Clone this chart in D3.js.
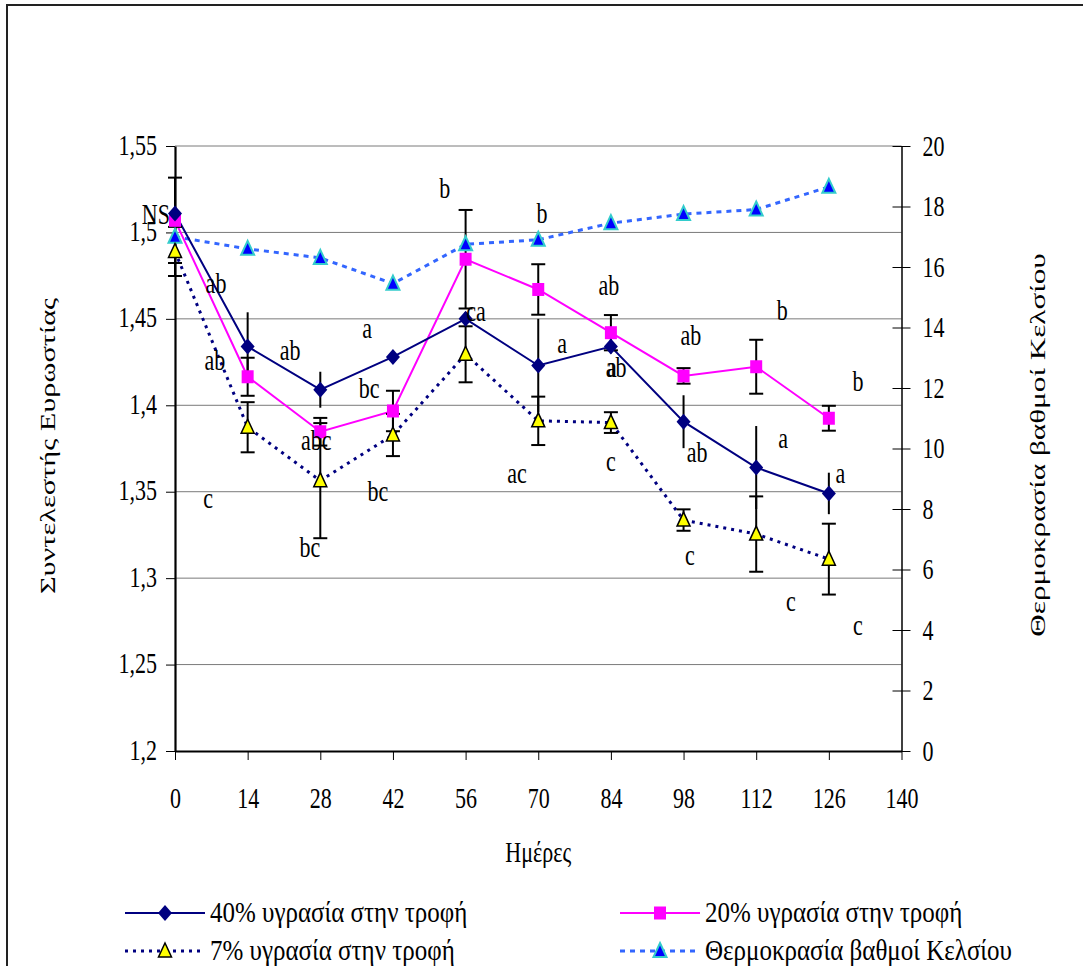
<!DOCTYPE html>
<html>
<head>
<meta charset="utf-8">
<script src="https://cdn.jsdelivr.net/npm/d3@7"></script>
<style>
  html, body { margin: 0; padding: 0; background: #fff; }
  svg { display: block; }
  text { font-family: "Liberation Serif", "DejaVu Serif", "Times New Roman", serif; fill: #000; }
</style>
</head>
<body>
<svg id="chart" width="1083" height="966"></svg>
<script>
// Days of sampling
const days = [0, 14, 28, 42, 56, 70, 84, 98, 112, 126];

// Condition factor per feed moisture level, with standard errors
const moist40 = [1.511, 1.434, 1.409, 1.428, 1.450, 1.423, 1.434, 1.3905, 1.364, 1.349];
const err40   = [0.010, 0.0198, 0.0104, 0.002, 0.004, 0.027, 0.004, 0.0153, 0.024, 0.012];
const moist20 = [1.507, 1.4165, 1.3847, 1.3967, 1.4845, 1.467, 1.442, 1.417, 1.4223, 1.3925];
const err20   = [0.0247, 0.011, 0.008, 0.0117, 0.0285, 0.0146, 0.0102, 0.0045, 0.0156, 0.0072];
const moist7  = [1.489, 1.3873, 1.3564, 1.3828, 1.4295, 1.391, 1.390, 1.3336, 1.3255, 1.311];
const err7    = [0.0142, 0.0145, 0.0333, 0.0122, 0.0162, 0.014, 0.006, 0.0062, 0.0218, 0.0205];

// Water temperature (°C), right axis
const temperature = [17.0, 16.6, 16.3, 15.45, 16.75, 16.9, 17.45, 17.75, 17.9, 18.65];

// Axis ticks
const xTicks = [0, 14, 28, 42, 56, 70, 84, 98, 112, 126, 140];
const yTicks = [1.2, 1.25, 1.3, 1.35, 1.4, 1.45, 1.5, 1.55];
const y2Ticks = [0, 2, 4, 6, 8, 10, 12, 14, 16, 18, 20];

// Series names
const seriesNames = ["40% υγρασία στην τροφή", "20% υγρασία στην τροφή",
                     "7% υγρασία στην τροφή", "Θερμοκρασία βαθμοί Κελσίου"];

// Significance letters: [text, day, condition factor]
const sigLetters = [
  ["NS", -3.7, 1.5049],
  ["ab", 7.9, 1.465], ["ab", 7.7, 1.4204], ["c", 6.4, 1.3406],
  ["ab", 22.2, 1.4262], ["abc", 27.2, 1.3741], ["bc", 26.0, 1.3122],
  ["a", 37.0, 1.4389], ["bc", 37.4, 1.4042], ["bc", 39.1, 1.3446],
  ["b", 52.0, 1.5199], ["ca", 58.0, 1.4488],
  ["b", 70.7, 1.5055], ["a", 74.6, 1.4302], ["ac", 65.9, 1.355],
  ["ab", 83.6, 1.4638], ["a", 84.2, 1.4164], ["ab", 85.0, 1.4164], ["c", 84.0, 1.362],
  ["ab", 99.4, 1.4349], ["ab", 100.6, 1.3672], ["c", 99.2, 1.3076],
  ["b", 117.0, 1.4493], ["a", 117.2, 1.3753], ["c", 118.7, 1.281],
  ["b", 131.6, 1.4083], ["a", 128.2, 1.355], ["c", 131.6, 1.2671]
];

const svg = d3.select("#chart");
const SY = 1.38;   // vertical stretch of the typeface
const FS = 22;

const x = d3.scaleLinear([0, 140], [175, 901.5]);
const y = d3.scaleLinear([1.2, 1.55], [751, 146]);
const y2 = d3.scaleLinear([0, 20], [751, 146]);

function stretchedText(sel, px, py, str, anchor, size, sy) {
  return sel.append("text")
    .attr("transform", `translate(${px},${py}) scale(1,${sy || SY})`)
    .attr("text-anchor", anchor || "start")
    .attr("font-size", size || FS)
    .text(str);
}

// Outer frame
svg.append("path")
  .attr("d", "M7,966 V5 H1083")
  .attr("fill", "none").attr("stroke", "#222").attr("stroke-width", 2);

// Horizontal gridlines
svg.append("g")
  .selectAll("line")
  .data(yTicks.filter(d => d > 1.2))
  .join("line")
  .attr("x1", x(0)).attr("x2", x(140))
  .attr("y1", d => y(d)).attr("y2", d => y(d))
  .attr("stroke", "#7a7a7a").attr("stroke-width", 1);

// Left axis
const gLeft = svg.append("g").attr("transform", `translate(${x(0)},0)`)
  .call(d3.axisLeft(y).tickValues(yTicks).tickSize(9).tickSizeOuter(0)
        .tickFormat(d => String(+d.toFixed(2)).replace(".", ",")));
gLeft.select(".domain").attr("stroke-width", 2.2).attr("stroke", "#000");
gLeft.selectAll(".tick line").attr("stroke", "#000");
gLeft.selectAll(".tick text").each(function () {
  const t = d3.select(this);
  t.attr("x", null).attr("dy", null)
   .attr("font-size", FS).attr("font-family", null)
   .attr("text-anchor", "end")
   .attr("transform", `translate(-18,8) scale(1,${SY})`);
});

// Bottom axis
const gBottom = svg.append("g").attr("transform", `translate(0,${y(1.2)})`)
  .call(d3.axisBottom(x).tickValues(xTicks).tickSize(9).tickSizeOuter(0));
gBottom.select(".domain").attr("stroke-width", 2.2).attr("stroke", "#000");
gBottom.selectAll(".tick line").attr("stroke", "#000");
gBottom.selectAll(".tick text").each(function () {
  const t = d3.select(this);
  t.attr("y", null).attr("dy", null)
   .attr("font-size", FS).attr("font-family", null)
   .attr("transform", `translate(0,57) scale(1,${SY})`);
});

// Right axis (temperature)
const gRight = svg.append("g").attr("transform", `translate(${x(140)},0)`)
  .call(d3.axisRight(y2).tickValues(y2Ticks).tickSize(9).tickSizeOuter(0));
gRight.select(".domain").attr("stroke-width", 1.5).attr("stroke", "#000");
gRight.selectAll(".tick line").attr("x1", -9).attr("stroke", "#000");
gRight.selectAll(".tick text").each(function () {
  const t = d3.select(this);
  t.attr("x", null).attr("dy", null)
   .attr("font-size", FS).attr("font-family", null)
   .attr("text-anchor", "start")
   .attr("transform", `translate(21,9) scale(1,${SY})`);
});

// Axis titles
stretchedText(svg, (x(0) + x(140)) / 2, 862, "Ημέρες", "middle");
svg.append("text")
  .attr("transform", `translate(55,446) rotate(-90) scale(${SY},1)`)
  .attr("text-anchor", "middle").attr("font-size", FS)
  .text("Συντελεστής Ευρωστίας");
svg.append("text")
  .attr("transform", `translate(1045,445) rotate(-90) scale(1.42,1)`)
  .attr("text-anchor", "middle").attr("font-size", FS)
  .text("Θερμοκρασία βαθμοί Κελσίου");

// Series data
const rows = days.map((d, i) => ({
  day: d,
  m40: moist40[i], e40: err40[i],
  m20: moist20[i], e20: err20[i],
  m7: moist7[i], e7: err7[i],
  t: temperature[i]
}));

const lineY = (key, sc) => d3.line().x(d => x(d.day)).y(d => sc(d[key]));

// Lines
svg.append("path").datum(rows).attr("d", lineY("t", y2))
  .attr("fill", "none").attr("stroke", "#3366ff").attr("stroke-width", 3)
  .attr("stroke-dasharray", "5,5");
svg.append("path").datum(rows).attr("d", lineY("m7", y))
  .attr("fill", "none").attr("stroke", "#000080").attr("stroke-width", 3)
  .attr("stroke-dasharray", "3,5");
svg.append("path").datum(rows).attr("d", lineY("m20", y))
  .attr("fill", "none").attr("stroke", "#ff00ff").attr("stroke-width", 2);
svg.append("path").datum(rows).attr("d", lineY("m40", y))
  .attr("fill", "none").attr("stroke", "#000080").attr("stroke-width", 2);

// Error bars
function errorBars(key, ekey, capped) {
  const g = svg.append("g").attr("stroke", "#000").attr("stroke-width", 2);
  g.selectAll("line.v").data(rows).join("line").attr("class", "v")
    .attr("x1", d => x(d.day)).attr("x2", d => x(d.day))
    .attr("y1", d => y(d[key] + d[ekey])).attr("y2", d => y(d[key] - d[ekey]));
  if (capped) {
    g.selectAll("line.cu").data(rows).join("line").attr("class", "cu")
      .attr("x1", d => x(d.day) - 7).attr("x2", d => x(d.day) + 7)
      .attr("y1", d => y(d[key] + d[ekey])).attr("y2", d => y(d[key] + d[ekey]));
    g.selectAll("line.cl").data(rows).join("line").attr("class", "cl")
      .attr("x1", d => x(d.day) - 7).attr("x2", d => x(d.day) + 7)
      .attr("y1", d => y(d[key] - d[ekey])).attr("y2", d => y(d[key] - d[ekey]));
  }
}
errorBars("m7", "e7", true);
errorBars("m20", "e20", true);
errorBars("m40", "e40", false);

// Marker shapes
const diamondPath = "M0,-8 L7,0 L0,8 L-7,0 Z";
const trianglePath = "M0,-8 L6.5,6 L-6.5,6 Z";
const squarePath = "M-6,-6.5 H6 V6.5 H-6 Z";

function markers(key, sc, path, fill, stroke, sw) {
  svg.append("g").selectAll("path").data(rows).join("path")
    .attr("transform", d => `translate(${x(d.day)},${sc(d[key])})`)
    .attr("d", path).attr("fill", fill)
    .attr("stroke", stroke || "none").attr("stroke-width", sw || 0);
}
markers("t", y2, trianglePath, "#0000ff", "#33cccc", 2);
markers("m7", y, trianglePath, "#ffff00", "#000", 1.5);
markers("m20", y, squarePath, "#ff00ff");
markers("m40", y, diamondPath, "#000080");

// Significance letters
const gLetters = svg.append("g");
sigLetters.forEach(([txt, d, v]) => stretchedText(gLetters, x(d), y(v), txt, "middle"));

// Legend
const legendItems = [
  { name: seriesNames[0], color: "#000080", dash: null, w: 2, path: diamondPath, fill: "#000080", stroke: "none", sw: 0, lx: 125, ly: 913 },
  { name: seriesNames[1], color: "#ff00ff", dash: null, w: 2, path: squarePath, fill: "#ff00ff", stroke: "none", sw: 0, lx: 620, ly: 913 },
  { name: seriesNames[2], color: "#000080", dash: "3,5", w: 3, path: trianglePath, fill: "#ffff00", stroke: "#000", sw: 1.5, lx: 125, ly: 951 },
  { name: seriesNames[3], color: "#3366ff", dash: "5,5", w: 3, path: trianglePath, fill: "#0000ff", stroke: "#33cccc", sw: 2, lx: 620, ly: 951 }
];
const gLegend = svg.append("g");
legendItems.forEach(it => {
  gLegend.append("line")
    .attr("x1", it.lx).attr("x2", it.lx + 80)
    .attr("y1", it.ly).attr("y2", it.ly)
    .attr("stroke", it.color).attr("stroke-width", it.w)
    .attr("stroke-dasharray", it.dash);
  gLegend.append("path")
    .attr("transform", `translate(${it.lx + 40},${it.ly})`)
    .attr("d", it.path).attr("fill", it.fill)
    .attr("stroke", it.stroke).attr("stroke-width", it.sw);
  stretchedText(gLegend, it.lx + 85, it.ly + 9, it.name, "start", 25, 1.22);
});
</script>
</body>
</html>
